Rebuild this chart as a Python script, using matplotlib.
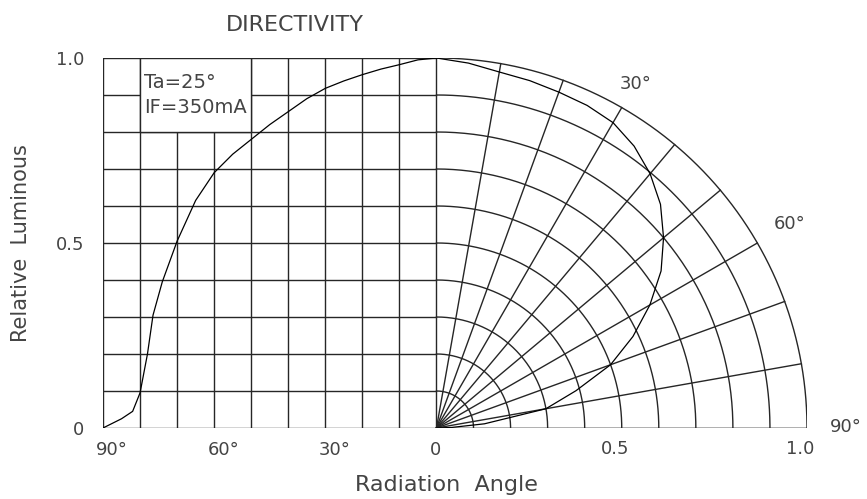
import numpy as np
import matplotlib
matplotlib.use("Agg")
import matplotlib.pyplot as plt
from matplotlib.patches import Rectangle

# left half: relative luminous vs angle (cartesian)
cart_angle = [0, 5, 10, 15, 20, 25, 30, 35, 40, 45, 50, 55, 60, 65, 70, 74, 76.5, 78, 80, 82, 85, 90]
cart_value = [1.0, 0.995, 0.982, 0.97, 0.955, 0.938, 0.918, 0.89, 0.855, 0.82, 0.78, 0.74,
              0.69, 0.615, 0.505, 0.395, 0.305, 0.20, 0.095, 0.045, 0.025, 0.0]

# right half: polar plot of the beam
polar_angle = [0, 5, 10, 15, 20, 25, 30, 35, 40, 45, 50, 55, 60, 65, 70, 75, 80, 85, 88, 90]
polar_r = [1.0, 0.99, 0.977, 0.972, 0.966, 0.962, 0.953, 0.93, 0.897, 0.855, 0.80, 0.74,
           0.665, 0.585, 0.50, 0.39, 0.30, 0.13, 0.04, 0.0]

y_ticks = [0, 0.5, 1.0]
y_ticklabels = ["0", "0.5", "1.0"]
angle_ticks = [90, 60, 30, 0]
angle_ticklabels = ["90°", "60°", "30°", "0"]
r_ticks = [0.5, 1.0]
r_ticklabels = ["0.5", "1.0"]
polar_marks = [30, 60, 90]

grid_c = "#262626"
text_c = "#444444"
lw = 1.0

fig = plt.figure(figsize=(8.67, 4.99), dpi=100)
ax = fig.add_axes([103 / 867, 71 / 499, 704 / 867, 370 / 499])
ax.set_xlim(-0.9, 1.0)
ax.set_ylim(0, 1)
ax.axis("off")

# cartesian grid (10 deg = 0.1 units)
for k in range(0, 11):
    ax.plot([-0.9, 0], [k / 10, k / 10], color=grid_c, lw=lw, zorder=1)
for k in range(0, 10):
    ax.plot([-k / 10, -k / 10], [0, 1], color=grid_c, lw=lw, zorder=1)
ax.plot([0, 1.0], [0, 0], color=grid_c, lw=lw, zorder=1)

# polar grid
th = np.radians(np.linspace(0, 90, 200))
for k in range(1, 11):
    r = k / 10
    ax.plot(r * np.sin(th), r * np.cos(th), color=grid_c, lw=lw, zorder=1)
for a in range(10, 100, 10):
    t = np.radians(a)
    ax.plot([0, np.sin(t)], [0, np.cos(t)], color=grid_c, lw=lw, zorder=1)

# text box
ax.add_patch(Rectangle((-0.8, 0.8), 0.3, 0.2, facecolor="white", edgecolor=grid_c, lw=lw, zorder=2))
ax.text(-0.79, 0.934, "Ta=25°", fontsize=14, color=text_c, ha="left", va="center", zorder=3)
ax.text(-0.79, 0.866, "IF=350mA", fontsize=14, color=text_c, ha="left", va="center", zorder=3)

# curves
ax.plot(-np.array(cart_angle) / 100, cart_value, color="black", lw=0.9, zorder=4)
pt = np.radians(polar_angle)
pr = np.array(polar_r)
ax.plot(pr * np.sin(pt), pr * np.cos(pt), color="black", lw=0.9, zorder=4)

# tick labels
for v, s in zip(y_ticks, y_ticklabels):
    ax.text(-0.95, v - 0.006, s, fontsize=13, color=text_c, ha="right", va="center")
for a, s in zip(angle_ticks, angle_ticklabels):
    ax.text(-a / 100 - 0.018, -0.06, s, fontsize=13, color=text_c, ha="left", va="center")
for v, s in zip(r_ticks, r_ticklabels):
    ax.text(v - 0.018, -0.058, s, fontsize=13, color=text_c, ha="center", va="center")
for a in polar_marks:
    t = np.radians(a)
    rr = 1.075 if a == 30 else 1.10
    if a == 90:
        ax.text(1.062, 0.003, "90°", fontsize=13, color=text_c, ha="left", va="center")
    else:
        ax.text(rr * np.sin(t), rr * np.cos(t), f"{a}°", fontsize=13, color=text_c,
                ha="center", va="center")

ax.text(-0.381, 1.09, "DIRECTIVITY", fontsize=16, color=text_c, ha="center", va="center")
ax.text(-1.122, 0.5, "Relative  Luminous", fontsize=15, color=text_c, rotation=90,
        ha="center", va="center")
ax.text(0.027, -0.155, "Radiation  Angle", fontsize=16, color=text_c, ha="center", va="center")

fig.savefig("out.png", dpi=100, facecolor="white")
